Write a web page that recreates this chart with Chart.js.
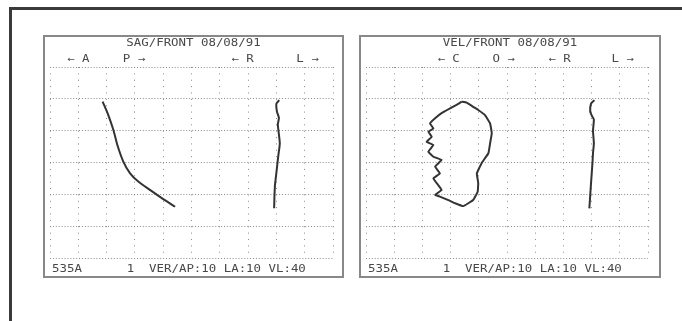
<!DOCTYPE html>
<html>
<head>
<meta charset="utf-8">
<script src="https://cdn.jsdelivr.net/npm/chart.js@4.4.1/dist/chart.umd.min.js"></script>
<style>
  html, body { margin: 0; padding: 0; background: #fff; width: 682px; height: 321px; overflow: hidden; }
  #frame {
    position: absolute; left: 9px; top: 7px; width: 720px; height: 312px;
    border-left: 3px solid #3a3a3a; border-top: 3px solid #3a3a3a; border-bottom: 1px solid #d4d4d4;
  }
  canvas { position: absolute; top: 35px; }
  .box { position: absolute; top: 35px; height: 243px; box-sizing: border-box; border: 2px solid #888; pointer-events: none; }
</style>
</head>
<body>
<div id="frame"></div>
<canvas id="sag" width="301" height="243" style="left:43px"></canvas>
<canvas id="vel" width="302" height="243" style="left:359px"></canvas>
<div class="box" style="left:43px;width:301px"></div>
<div class="box" style="left:359px;width:302px"></div>
<script>
// grid units: x 0..10 (10 columns), y 0..6 (6 rows, bottom = 0)
const X_MAX = 10;
const Y_MAX = 6;

const sagTitle = "SAG/FRONT 08/08/91";
const sagAxisLabels = ["← A", "P →", "← R", "L →"];
const velTitle = "VEL/FRONT 08/08/91";
const velAxisLabels = ["← C", "O →", "← R", "L →"];
const footerText = "535A      1  VER/AP:10 LA:10 VL:40";

// sagittal trace (A/P)
const sagApX = [1.86, 2.06, 2.24, 2.38, 2.59, 2.83, 3.12, 3.53, 3.95, 4.42];
const sagApY = [4.91, 4.49, 4.02, 3.55, 3.03, 2.66, 2.40, 2.14, 1.88, 1.61];
// frontal trace (R/L)
const sagRlX = [8.10, 8.00, 8.02, 8.09, 8.05, 8.08, 8.12, 8.08, 8.04, 7.99, 7.95, 7.93, 7.92];
const sagRlY = [4.96, 4.85, 4.60, 4.40, 4.20, 3.95, 3.60, 3.30, 3.00, 2.60, 2.30, 1.90, 1.56];

// velocity loop (C/O)
const velCoX = [3.39, 3.57, 3.80, 3.98, 4.22, 4.40, 4.46, 4.40, 4.34, 4.10, 3.93, 3.98, 3.96,
                3.80, 3.45, 3.16, 2.92, 2.62, 2.45, 2.68, 2.56, 2.39, 2.62, 2.45, 2.68, 2.39,
                2.21, 2.39, 2.15, 2.33, 2.21, 2.39, 2.27, 2.45, 2.68, 2.98, 3.21, 3.39];
const velCoY = [4.91, 4.88, 4.75, 4.65, 4.49, 4.23, 3.92, 3.60, 3.29, 2.98, 2.66, 2.35, 2.08,
                1.82, 1.63, 1.72, 1.82, 1.93, 1.98, 2.14, 2.29, 2.50, 2.66, 2.87, 3.08, 3.18,
                3.34, 3.55, 3.65, 3.81, 3.97, 4.07, 4.23, 4.39, 4.55, 4.70, 4.81, 4.91];
// velocity frontal trace (R/L)
const velRlX = [8.10, 7.98, 7.95, 8.02, 8.08, 8.05, 8.08, 8.05, 8.03, 7.98, 7.94, 7.92];
const velRlY = [4.96, 4.85, 4.60, 4.45, 4.35, 4.00, 3.60, 3.30, 2.98, 2.35, 1.82, 1.56];

// where the direction labels sit, in grid units
const sagLabelAt = [1.0, 2.97, 6.8, 9.1];
const velLabelAt = [2.93, 4.88, 6.86, 9.1];

const TEXT_COLOR = "#484848";
const TRACE_COLOR = "#333";
const GRID_COLOR = "#8a8a8a";

const toPoints = (xs, ys) => xs.map((x, i) => ({ x, y: ys[i] }));

function monoText(ctx, str, x, y, align) {
    ctx.save();
    ctx.font = "10px 'DejaVu Sans Mono'";
    ctx.fillStyle = TEXT_COLOR;
    ctx.textAlign = align;
    ctx.textBaseline = "middle";
    ctx.translate(x, y);
    ctx.scale(1.24, 1); // the plotter font is wide
    ctx.fillText(str, 0, 0);
    ctx.restore();
}

const printout = {
    id: "printout",
    afterDraw(chart, args, opts) {
        const ctx = chart.ctx;
        const xs = chart.scales.x;
        monoText(ctx, opts.title, chart.width / 2, 8.5, "center");
        opts.labels.forEach((lbl, i) => {
            monoText(ctx, lbl, xs.getPixelForValue(opts.labelAt[i]), 24, "center");
        });
        monoText(ctx, footerText, 9, 234.5, "left");
    },
};

function makePanel(id, title, labels, labelAt, traces, padRight) {
    return new Chart(document.getElementById(id), {
        type: "scatter",
        data: {
            datasets: traces.map(([xs, ys, tension]) => ({
                data: toPoints(xs, ys),
                showLine: true,
                borderColor: TRACE_COLOR,
                borderWidth: 2,
                pointRadius: 0,
                tension,
            })),
        },
        options: {
            responsive: false,
            animation: false,
            layout: { padding: { left: 7, right: padRight, top: 32, bottom: 20 } },
            plugins: {
                legend: { display: false },
                tooltip: { enabled: false },
                printout: { title, labels, labelAt },
            },
            scales: {
                x: {
                    type: "linear", min: 0, max: X_MAX,
                    ticks: { display: false, stepSize: 1 },
                    grid: { color: GRID_COLOR, lineWidth: 1, drawTicks: false },
                    border: { display: false, dash: [1, 5.37] },
                },
                y: {
                    type: "linear", min: 0, max: Y_MAX,
                    ticks: { display: false, stepSize: 1 },
                    grid: { color: GRID_COLOR, lineWidth: 1, drawTicks: false },
                    border: { display: false, dash: [1, 1.9] },
                },
            },
        },
        plugins: [printout],
    });
}

makePanel("sag", sagTitle, sagAxisLabels, sagLabelAt,
    [[sagApX, sagApY, 0.25], [sagRlX, sagRlY, 0.2]], 11);
makePanel("vel", velTitle, velAxisLabels, velLabelAt,
    [[velCoX, velCoY, 0.08], [velRlX, velRlY, 0.2]], 13);
</script>
</body>
</html>
